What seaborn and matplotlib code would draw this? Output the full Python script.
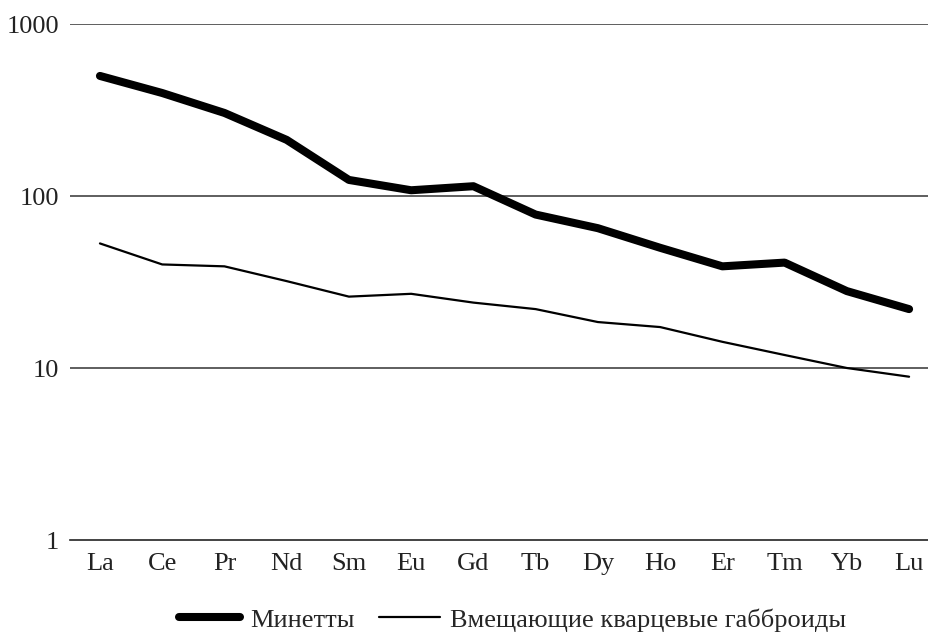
import numpy as np
import pandas as pd
import matplotlib
matplotlib.use("Agg")
import matplotlib.pyplot as plt
import seaborn as sns

# REE spectra (chondrite-normalised)
elements = ["La", "Ce", "Pr", "Nd", "Sm", "Eu", "Gd", "Tb", "Dy", "Ho", "Er", "Tm", "Yb", "Lu"]
minettes = [499, 397, 304, 212, 124, 108, 114, 78, 65, 50, 39, 41, 28, 22]
gabbro = [53, 40, 39, 32, 26, 27, 24, 22, 18.5, 17.3, 14.2, 11.9, 10, 8.9]
series_names = ["Минетты", "Вмещающие кварцевые габброиды"]

df = pd.DataFrame({
    "element": elements * 2,
    "value": minettes + gabbro,
    "series": [series_names[0]] * len(elements) + [series_names[1]] * len(elements),
})

sns.set_theme(style="white")
plt.rcParams["font.family"] = ["Liberation Serif", "DejaVu Serif"]

fig = plt.figure(figsize=(9.29, 6.35), dpi=100)
ax = fig.add_axes([0.0753, 0.1496, 0.9247, 0.8126])

sns.lineplot(data=df, x="element", y="value", hue="series", size="series",
             sizes={series_names[0]: 5.8, series_names[1]: 1.6},
             palette={series_names[0]: "black", series_names[1]: "black"},
             sort=False, ax=ax, legend=False)
for ln in ax.get_lines():
    ln.set_solid_capstyle("round")
    ln.set_solid_joinstyle("round")

ax.set_yscale("log")
ax.set_ylim(1, 1000)
ax.set_xlim(-0.482, 13.32)
ax.set_yticks([1, 10, 100, 1000])
ax.set_yticklabels(["1", "10", "100", "1000"])
ax.minorticks_off()
ax.tick_params(axis="both", length=0, labelsize=19, colors="#222222")
ax.tick_params(axis="x", pad=9)
ax.tick_params(axis="y", pad=8)
ax.set_xlabel("")
ax.set_ylabel("")

for v in [10, 100, 1000]:
    ax.axhline(v, color="#333333", lw=1.1, zorder=0)

for s in ["top", "right", "left"]:
    ax.spines[s].set_visible(False)
ax.spines["bottom"].set_color("#222222")
ax.spines["bottom"].set_linewidth(1.2)

handles = [plt.Line2D([], [], color="black", lw=5.8, solid_capstyle="round"),
           plt.Line2D([], [], color="black", lw=1.6)]
fig.legend(handles, series_names, loc="center", bbox_to_anchor=(0.552, 0.024),
           ncol=2, frameon=False, fontsize=19, handlelength=2.3,
           handletextpad=0.4, columnspacing=0.9)

fig.savefig("out.png", dpi=100, facecolor="white")
